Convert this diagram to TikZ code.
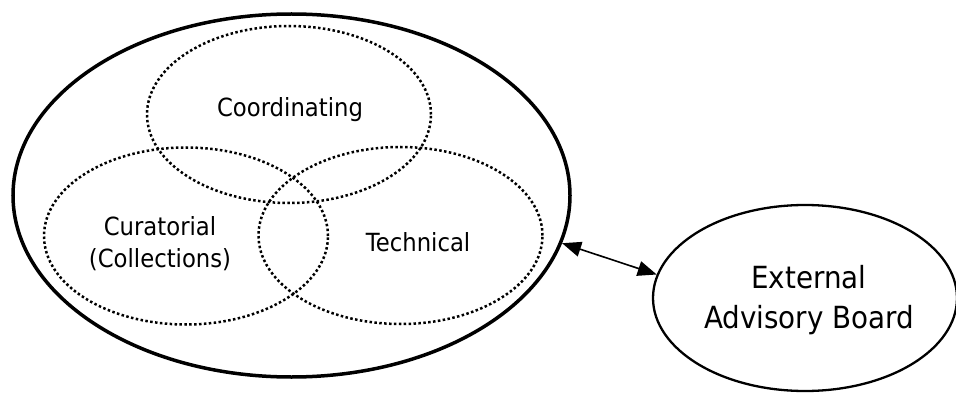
\documentclass[tikz,border=0pt]{standalone}
\usepackage{fontspec}
\setmainfont[FakeStretch=0.91]{DejaVu Sans}
\usetikzlibrary{shapes.geometric,arrows.meta}
\begin{document}
\begin{tikzpicture}[x=1pt,y=-1pt,
  group/.style={ellipse,draw,inner sep=0pt,line width=3.5pt,
    minimum width=557pt,minimum height=363pt},
  region/.style={ellipse,draw,inner sep=0pt,line width=2.5pt,
    dash pattern=on 2.5pt off 2.4pt,
    minimum width=284pt,minimum height=177pt},
  board/.style={ellipse,draw,inner sep=0pt,line width=2.3pt,
    minimum width=304pt,minimum height=186pt},
  lbl/.style={inner sep=0pt,anchor=base,font=\fontsize{25}{30}\selectfont},
  biglbl/.style={inner sep=0pt,anchor=base,font=\fontsize{30.5}{36}\selectfont},
  link/.style={line width=1.6pt,
    {Triangle[length=19pt,width=15pt]}-{Triangle[length=19pt,width=15pt]}}]
\useasboundingbox (0,0) rectangle (956,393);

% team and its three overlapping working groups
\node[group]  (team) at (291.5,195.5) {};
\node[region] (coord) at (289,114.5) {};
\node[region] (cur)   at (186,236) {};
\node[region] (tech)  at (400.5,235.5) {};

% external board
\node[board] (ext) at (805,298) {};

% labels
\node[lbl] (tcoord) at (290,117) {Coordinating};
\node[lbl] (tcurA)  at (160,235) {Curatorial};
\node[lbl] (tcurB)  at (160,267) {(Collections)};
\node[lbl] (ttech)  at (418,251) {Technical};
\node[biglbl] (textA) at (809,288) {External};
\node[biglbl] (textB) at (809,328) {Advisory Board};

% two-way link between team and board
\draw[link] (team.-10.7) -- (ext.171.3);
\end{tikzpicture}
\end{document}
